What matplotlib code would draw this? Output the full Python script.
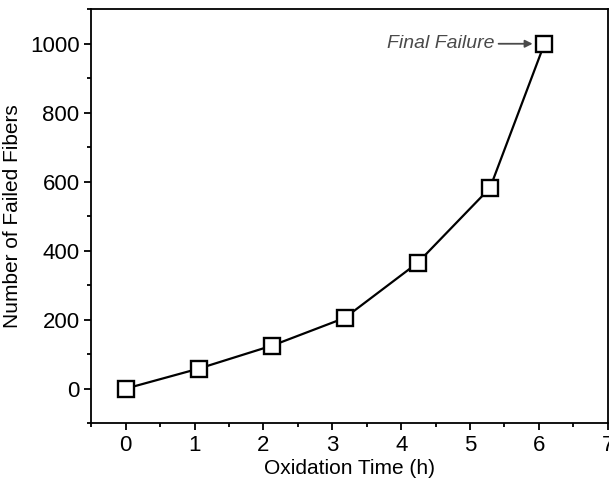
import matplotlib
matplotlib.use('Agg')
import matplotlib.pyplot as plt
from matplotlib.ticker import MultipleLocator

# oxidation time (h) and cumulative failed fibers
oxidation_time = [0, 1.06, 2.13, 3.18, 4.24, 5.29, 6.08]
failed_fibers = [0, 58, 125, 205, 365, 582, 1000]

x_ticks = [0, 1, 2, 3, 4, 5, 6, 7]
y_ticks = [0, 200, 400, 600, 800, 1000]

plt.rcParams['font.family'] = ['Liberation Sans', 'DejaVu Sans']

fig = plt.figure(figsize=(6.09, 4.88), dpi=100)
ax = fig.add_axes([0.150, 0.133, 0.848, 0.848])

ax.plot(oxidation_time, failed_fibers, color='black', linewidth=1.6,
        marker='s', markersize=11, markerfacecolor='white',
        markeredgecolor='black', markeredgewidth=1.7, zorder=3)

# label the last point
ax.annotate('Final Failure', xy=(oxidation_time[-1], failed_fibers[-1]),
            xytext=(-36, 0), textcoords='offset points',
            ha='right', va='center', fontsize=14, style='italic', color='#4a4a4a',
            arrowprops=dict(arrowstyle='-|>', color='#4a4a4a', lw=1.3,
                            shrinkA=1, shrinkB=8.5, mutation_scale=11))

ax.set_xlim(-0.5, 7)
ax.set_ylim(-100, 1100)
ax.set_xticks(x_ticks)
ax.set_yticks(y_ticks)
ax.xaxis.set_minor_locator(MultipleLocator(0.5))
ax.yaxis.set_minor_locator(MultipleLocator(100))

ax.tick_params(which='major', direction='out', length=5, width=1.3, labelsize=16)
ax.tick_params(which='minor', direction='out', length=3, width=1.3)
ax.tick_params(top=False, right=False)
for s in ax.spines.values():
    s.set_linewidth(1.3)

ax.set_xlabel('Oxidation Time (h)', fontsize=15, labelpad=2)
ax.set_ylabel('Number of Failed Fibers', fontsize=15, labelpad=6)

fig.savefig('out.png', dpi=100)
